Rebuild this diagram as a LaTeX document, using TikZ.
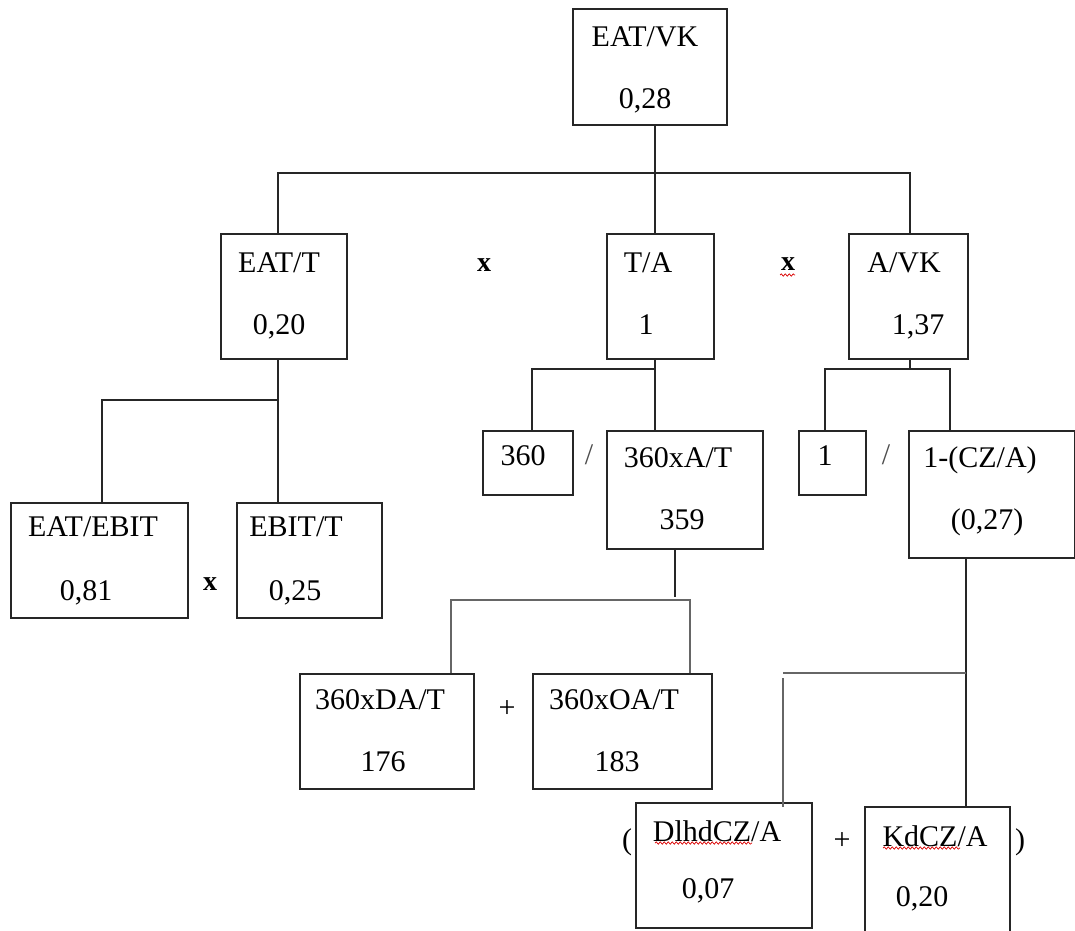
\documentclass[tikz,border=0pt]{standalone}
\usepackage{fontspec}
\setmainfont{Liberation Serif}
\usetikzlibrary{decorations.pathmorphing,calc}
\begin{document}
\begin{tikzpicture}[x=1pt,y=-1pt,
  box/.style={draw=black!85,line width=1.6pt,anchor=north west,inner sep=0pt,minimum width=#1},
  txt/.style={font=\fontsize{30}{36}\selectfont,inner sep=0pt,anchor=base},
  op/.style={font=\fontsize{30}{36}\selectfont,inner sep=0pt,anchor=base},
  bop/.style={font=\fontsize{28}{34}\selectfont\bfseries,inner sep=0pt,anchor=base},
  conn/.style={draw=black!85,line width=1.6pt},
  gconn/.style={draw=black!60,line width=1.8pt},
  squig/.style={draw=red!85!black,line width=0.7pt,decorate,decoration={snake,amplitude=1.2pt,segment length=4pt}}]
\useasboundingbox (0,0) rectangle (1075,930);
% boxes
\node[box=154pt,minimum height=116pt] (vk) at (572,8) {};
\node[box=126pt,minimum height=125pt] (eatt) at (220,233) {};
\node[box=107pt,minimum height=125pt] (ta) at (606,233) {};
\node[box=119pt,minimum height=125pt] (avk) at (848,233) {};
\node[box=177pt,minimum height=115pt] (eatebit) at (10,502) {};
\node[box=145pt,minimum height=115pt] (ebitt) at (236,502) {};
\node[box=90pt,minimum height=64pt] (n360) at (482,430) {};
\node[box=156pt,minimum height=118pt] (nxat) at (606,430) {};
\node[box=67pt,minimum height=64pt] (one) at (798,430) {};
\node[box=166pt,minimum height=127pt] (cza) at (908,430) {};
\node[box=174pt,minimum height=115pt] (dxa) at (299,673) {};
\node[box=179pt,minimum height=115pt] (oxa) at (532,673) {};
\node[box=176pt,minimum height=125pt] (dlhd) at (635,802) {};
\node[box=145pt,minimum height=140pt] (kd) at (864,806) {};
% texts
\node[txt] (t1a) at (645,46) {EAT/VK};
\node[txt] (t1b) at (645,108) {0,28};
\node[txt] (t2a) at (279,272) {EAT/T};
\node[txt] (t2b) at (279,334) {0,20};
\node[txt] (t3a) at (648,272) {T/A};
\node[txt] (t3b) at (646,334) {1};
\node[txt] (t4a) at (904,272) {A/VK};
\node[txt] (t4b) at (918,334) {1,37};
\node[txt] (t5a) at (93,536) {EAT/EBIT};
\node[txt] (t5b) at (86,600) {0,81};
\node[txt] (t6a) at (296,536) {EBIT/T};
\node[txt] (t6b) at (295,600) {0,25};
\node[txt] (t7a) at (523,465) {360};
\node[txt] (t8a) at (678,467) {360xA/T};
\node[txt] (t8b) at (682,529) {359};
\node[txt] (t9a) at (825,465) {1};
\node[txt] (t10a) at (980,467) {1-(CZ/A)};
\node[txt] (t10b) at (987,529) {(0,27)};
\node[txt] (t11a) at (380,709) {360xDA/T};
\node[txt] (t11b) at (383,771) {176};
\node[txt] (t12a) at (614,709) {360xOA/T};
\node[txt] (t12b) at (617,771) {183};
\node[txt] (t13a) at (717,841) {DlhdCZ/A};
\node[txt] (t13b) at (708,898) {0,07};
\node[txt] (t14a) at (935,846) {KdCZ/A};
\node[txt] (t14b) at (922,906) {0,20};
% operators
\node[bop] (o1) at (484,271) {x};
\node[bop] (o2) at (788,270) {x};
\node[bop] (o3) at (210,590) {x};
\node[op,text=black!70] (o4) at (589,464) {/};
\node[op,text=black!70] (o5) at (886,464) {/};
\node[op] (o6) at (507,717) {+};
\node[op] (o7) at (842,849) {+};
\node[op] (o8) at (627,849) {(};
\node[op] (o9) at (1020,849) {)};
% squiggles
\coordinate (s1a) at (780,275); \coordinate (s1b) at (795,275);
\coordinate (s2a) at (655,843); \coordinate (s2b) at (752,843);
\coordinate (s3a) at (883,848); \coordinate (s3b) at (960,848);
\draw[squig] (s1a) -- (s1b);
\draw[squig] (s2a) -- (s2b);
\draw[squig] (s3a) -- (s3b);
% connectors
\coordinate (j0) at (655,173);
\coordinate (tl) at (278,173);
\coordinate (tr) at (910,173);
\draw[conn] (j0 |- vk.south) -- (j0 |- ta.north);
\draw[conn] (tl |- eatt.north) -- (tl) -- (tr) -- (tr |- avk.north);
\coordinate (j1) at (278,400);
\coordinate (j1l) at (102,400);
\draw[conn] (j1 |- eatt.south) -- (j1 |- ebitt.north);
\draw[conn] (j1) -- (j1l) -- (j1l |- eatebit.north);
\coordinate (j2) at (655,369);
\coordinate (j2l) at (532,369);
\draw[conn] (j2 |- ta.south) -- (j2 |- nxat.north);
\draw[conn] (j2) -- (j2l) -- (j2l |- n360.north);
\coordinate (j3) at (910,369);
\coordinate (j3l) at (825,369);
\coordinate (j3r) at (950,369);
\draw[conn] (j3 |- avk.south) -- (j3);
\draw[conn] (j3l |- one.north) -- (j3l) -- (j3r) -- (j3r |- cza.north);
\coordinate (j4) at (675,597);
\coordinate (j4l) at (451,600);
\coordinate (j4r) at (690,600);
\draw[conn] (j4 |- nxat.south) -- (j4);
\draw[gconn] (j4l |- dxa.north) -- (j4l) -- (j4r) -- (j4r |- oxa.north);
\coordinate (j5) at (966,673);
\coordinate (j5l) at (783,673);
\coordinate (j5b) at (783,678);
\draw[conn] (j5 |- cza.south) -- (j5 |- kd.north);
\draw[gconn] (j5) -- (j5l);
\draw[gconn] (j5b) -- ($(j5b |- dlhd.north)+(0,5)$);
\end{tikzpicture}
\end{document}
